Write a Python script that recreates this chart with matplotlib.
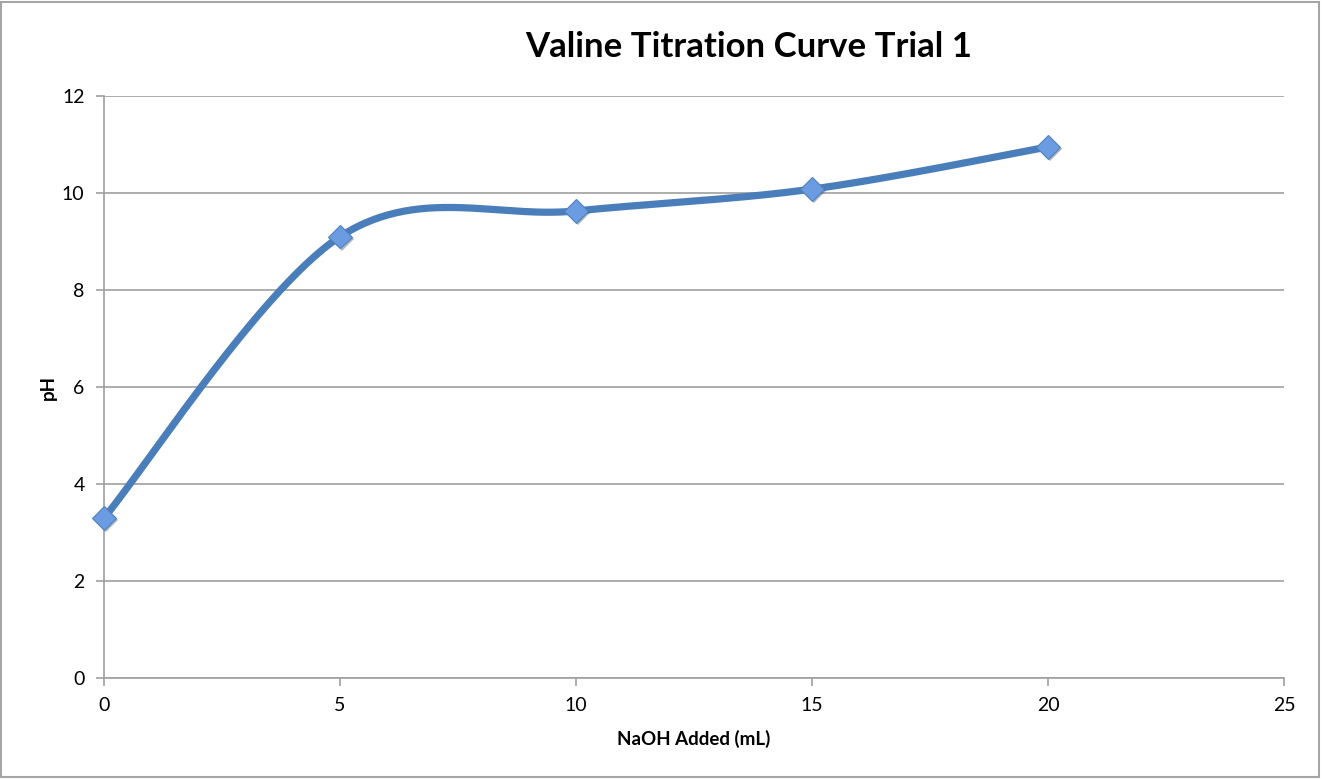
import numpy as np
import matplotlib
matplotlib.use("Agg")
import matplotlib.pyplot as plt
import matplotlib.patheffects as pe
from matplotlib.patches import Rectangle

# data
naoh_ml = [0, 5, 10, 15, 20]
ph = [3.3, 9.1, 9.63, 10.08, 10.95]
x_ticks = [0, 5, 10, 15, 20, 25]
y_ticks = [0, 2, 4, 6, 8, 10, 12]

plt.rcParams['font.family'] = ['Lato', 'DejaVu Sans']


# ============================
# Excel-like smoothed line (bezier, catmull-rom control points)
# ============================
def smoothLine(xs, ys, n=60):
    pts = np.column_stack([xs, ys]).astype(float)
    outx, outy = [], []
    for i in range(len(pts) - 1):
        p0 = pts[i - 1] if i > 0 else pts[i]
        p1 = pts[i]
        p2 = pts[i + 1]
        p3 = pts[i + 2] if i + 2 < len(pts) else pts[i + 1]
        c1 = p1 + (p2 - p0) / 6.0
        c2 = p2 - (p3 - p1) / 6.0
        t = np.linspace(0, 1, n)[:, None]
        b = ((1 - t) ** 3) * p1 + 3 * ((1 - t) ** 2) * t * c1 + 3 * (1 - t) * t ** 2 * c2 + t ** 3 * p2
        outx.extend(b[:, 0])
        outy.extend(b[:, 1])
    return outx, outy


W, H = 1323, 779
fig = plt.figure(figsize=(W / 100, H / 100), dpi=100)
fig.patches.append(Rectangle((0.001, 0.002), 0.996, 0.995, transform=fig.transFigure,
                             fill=False, edgecolor='#a6a6a6', linewidth=1.5))

ax = fig.add_axes([104 / W, (H - 678) / H, (1284 - 104) / W, (678 - 96) / H])

sx, sy = smoothLine(naoh_ml, ph)
ax.plot(sx, sy, color='#4a7ebb', linewidth=5.2, solid_capstyle='round', zorder=3)
ax.plot(naoh_ml, ph, linestyle='none', marker='D', markersize=12,
        markerfacecolor='#6b9be0', markeredgecolor='#4f81bd', markeredgewidth=0.8, zorder=4,
        clip_on=False,
        path_effects=[pe.SimplePatchShadow(offset=(1.5, -1.5), alpha=0.35), pe.Normal()])

ax.set_xlim(0, 25)
ax.set_ylim(0, 12)
ax.set_xticks(x_ticks)
ax.set_yticks(y_ticks)
ax.yaxis.grid(True, color='#a0a0a0', linewidth=1.2)
ax.set_axisbelow(True)
for s in ['top', 'right']:
    ax.spines[s].set_visible(False)
for s in ['left', 'bottom']:
    ax.spines[s].set_color('#a0a0a0')
    ax.spines[s].set_linewidth(1.2)
ax.tick_params(axis='both', direction='out', length=6, width=1.2, color='#a0a0a0',
               labelsize=14, labelcolor='black')
ax.tick_params(axis='x', pad=8)
ax.tick_params(axis='y', pad=8)

ax.set_xlabel("NaOH Added (mL)", fontsize=13.5, fontweight='bold', labelpad=11)
ax.set_ylabel("pH", fontsize=13.5, fontweight='bold', labelpad=4)
fig.text(749 / W, 1 - 47 / H, "Valine Titration Curve Trial 1", ha='center', va='center',
         fontsize=25, fontweight='bold')

fig.savefig("out.png", dpi=100)
plt.close()
